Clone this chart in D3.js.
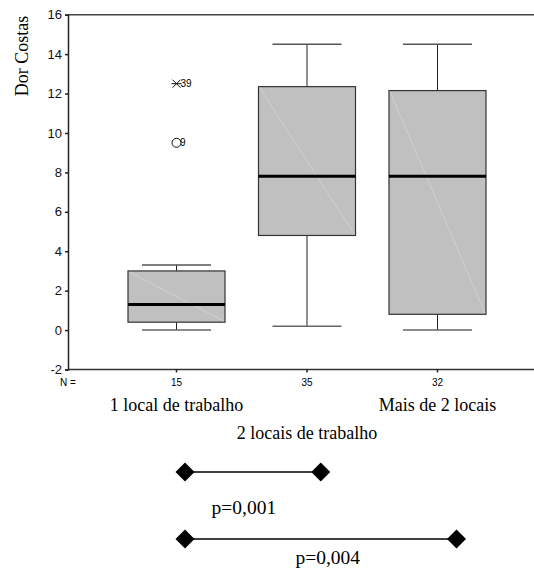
<!DOCTYPE html>
<html>
<head>
<meta charset="utf-8">
<script src="https://cdn.jsdelivr.net/npm/d3@7/dist/d3.min.js"></script>
<style>
  html, body { margin: 0; padding: 0; background: #fff; }
  svg { display: block; }
</style>
</head>
<body>
<svg id="chart" width="534" height="569"></svg>
<script>
// Back pain score by number of workplaces
const categories = ["1 local de trabalho", "2 locais de trabalho", "Mais de 2 locais"];
const counts = [15, 35, 32];
const whiskerLow = [0, 0.2, 0];
const q1 = [0.4, 4.8, 0.8];
const medians = [1.3, 7.8, 7.8];
const q3 = [3.0, 12.35, 12.15];
const whiskerHigh = [3.3, 14.5, 14.5];

// Outliers (circle) and extremes (asterisk) with case numbers
const outlierGroup = ["1 local de trabalho"];
const outlierValue = [9.5];
const outlierCase = ["9"];
const extremeGroup = ["1 local de trabalho"];
const extremeValue = [12.5];
const extremeCase = ["39"];

const yTicks = [-2, 0, 2, 4, 6, 8, 10, 12, 14, 16];

// Pairwise comparisons shown under the chart
const compFrom = ["1 local de trabalho", "1 local de trabalho"];
const compTo = ["2 locais de trabalho", "Mais de 2 locais"];
const compLabel = ["p=0,001", "p=0,004"];

const svg = d3.select("#chart");
const serif = "'Liberation Serif', 'Times New Roman', serif";
const sans = "'Liberation Sans', Arial, sans-serif";

const plotLeft = 68, plotRight = 534, plotTop = 14.7, plotBottom = 369.5;
const y = d3.scaleLinear().domain([-2, 16]).range([plotBottom, plotTop]);
const x = d3.scalePoint().domain(categories).range([176.5, 437.5]);
const boxW = 97, capW = 69;

// Frame: top line, left axis, bottom axis
svg.append("line").attr("x1", plotLeft).attr("x2", plotRight).attr("y1", plotTop).attr("y2", plotTop)
  .attr("stroke", "#444").attr("stroke-width", 1.5);

const yAxis = d3.axisLeft(y).tickValues(yTicks).tickSize(3).tickPadding(3).tickFormat(d => String(d));
const gy = svg.append("g").attr("transform", `translate(${plotLeft},0)`).call(yAxis);
gy.attr("font-size", null).attr("font-family", null);
gy.select(".domain").attr("stroke", "#222").attr("stroke-width", 1.5);
gy.selectAll(".tick line").attr("stroke", "#222").attr("stroke-width", 1.5);
gy.selectAll(".tick text").attr("font-family", sans).attr("font-size", 13).attr("fill", "#111");

svg.append("line").attr("x1", plotLeft).attr("x2", plotRight).attr("y1", plotBottom).attr("y2", plotBottom)
  .attr("stroke", "#333").attr("stroke-width", 1.5);
svg.selectAll(".xtick").data(categories).join("line")
  .attr("x1", d => x(d)).attr("x2", d => x(d))
  .attr("y1", plotBottom).attr("y2", plotBottom + 3)
  .attr("stroke", "#222").attr("stroke-width", 1.5);

// N counts
svg.append("text").attr("x", 68).attr("y", 386).attr("text-anchor", "middle")
  .attr("font-family", sans).attr("font-size", 10).text("N =");
svg.selectAll(".ncount").data(categories).join("text")
  .attr("x", d => x(d)).attr("y", 386).attr("text-anchor", "middle")
  .attr("font-family", sans).attr("font-size", 10)
  .text((d, i) => counts[i]);

// Category labels (middle one staggered onto a second row)
svg.selectAll(".cat").data(categories).join("text")
  .attr("x", d => x(d))
  .attr("y", (d, i) => i === 1 ? 439 : 411)
  .attr("text-anchor", "middle")
  .attr("font-family", serif).attr("font-size", 18)
  .text(d => d);

// Y title
svg.append("text")
  .attr("transform", "translate(28,56) rotate(-90)")
  .attr("text-anchor", "middle")
  .attr("font-family", serif).attr("font-size", 18)
  .text("Dor Costas");

// Boxes
const boxes = svg.selectAll(".box").data(categories).join("g");
boxes.append("line")
  .attr("x1", d => x(d)).attr("x2", d => x(d))
  .attr("y1", (d, i) => y(whiskerHigh[i])).attr("y2", (d, i) => y(q3[i]))
  .attr("stroke", "#222");
boxes.append("line")
  .attr("x1", d => x(d)).attr("x2", d => x(d))
  .attr("y1", (d, i) => y(q1[i])).attr("y2", (d, i) => y(whiskerLow[i]))
  .attr("stroke", "#222");
boxes.append("line")
  .attr("x1", d => x(d) - capW / 2).attr("x2", d => x(d) + capW / 2)
  .attr("y1", (d, i) => y(whiskerHigh[i])).attr("y2", (d, i) => y(whiskerHigh[i]))
  .attr("stroke", "#555").attr("stroke-width", 1.5);
boxes.append("line")
  .attr("x1", d => x(d) - capW / 2).attr("x2", d => x(d) + capW / 2)
  .attr("y1", (d, i) => y(whiskerLow[i])).attr("y2", (d, i) => y(whiskerLow[i]))
  .attr("stroke", "#666").attr("stroke-width", 1.5);
boxes.append("rect")
  .attr("x", d => x(d) - boxW / 2).attr("width", boxW)
  .attr("y", (d, i) => y(q3[i])).attr("height", (d, i) => y(q1[i]) - y(q3[i]))
  .attr("fill", "#c0c0c0").attr("stroke", "#333").attr("stroke-width", 1.2);
boxes.append("line")
  .attr("x1", d => x(d) - boxW / 2 + 1).attr("x2", d => x(d) + boxW / 2 - 1)
  .attr("y1", (d, i) => y(q3[i]) + 1).attr("y2", (d, i) => y(q1[i]) - 1)
  .attr("stroke", "#dadada").attr("stroke-width", 0.6);
boxes.append("line")
  .attr("x1", d => x(d) - boxW / 2).attr("x2", d => x(d) + boxW / 2)
  .attr("y1", (d, i) => y(medians[i])).attr("y2", (d, i) => y(medians[i]))
  .attr("stroke", "#000").attr("stroke-width", 3);

// Outliers
outlierValue.forEach((v, i) => {
  const cx = x(outlierGroup[i]), cy = y(v);
  svg.append("circle").attr("cx", cx).attr("cy", cy).attr("r", 4.5)
    .attr("fill", "none").attr("stroke", "#111").attr("stroke-width", 1);
  svg.append("text").attr("x", cx + 3.5).attr("y", cy + 3.5)
    .attr("font-family", sans).attr("font-size", 10).text(outlierCase[i]);
});
extremeValue.forEach((v, i) => {
  const cx = x(extremeGroup[i]), cy = y(v), s = 4;
  svg.append("path")
    .attr("d", `M${cx - s},${cy - s}L${cx + s},${cy + s}M${cx - s},${cy + s}L${cx + s},${cy - s}M${cx - s - 1},${cy}L${cx + s + 1},${cy}`)
    .attr("stroke", "#111").attr("stroke-width", 1).attr("fill", "none");
  svg.append("text").attr("x", cx + 4).attr("y", cy + 3.5)
    .attr("font-family", sans).attr("font-size", 10).text(extremeCase[i]);
});

// Comparison bars
const xc = d3.scalePoint().domain(categories).range([185, 456.5]);
const compY = [472, 539];
const textY = [514, 564];
const textDx = [-9, 7];
const diamond = d3.symbol().type(d3.symbolSquare).size(180);
compFrom.forEach((f, i) => {
  const x1 = xc(f), x2 = xc(compTo[i]);
  svg.append("line").attr("x1", x1).attr("x2", x2).attr("y1", compY[i]).attr("y2", compY[i])
    .attr("stroke", "#000").attr("stroke-width", 1.5);
  [x1, x2].forEach(px => {
    svg.append("path").attr("d", diamond)
      .attr("transform", `translate(${px},${compY[i]}) rotate(45)`)
      .attr("fill", "#000");
  });
  svg.append("text").attr("x", (x1 + x2) / 2 + textDx[i]).attr("y", textY[i])
    .attr("text-anchor", "middle").attr("font-family", serif).attr("font-size", 19.5)
    .text(compLabel[i]);
});
</script>
</body>
</html>
